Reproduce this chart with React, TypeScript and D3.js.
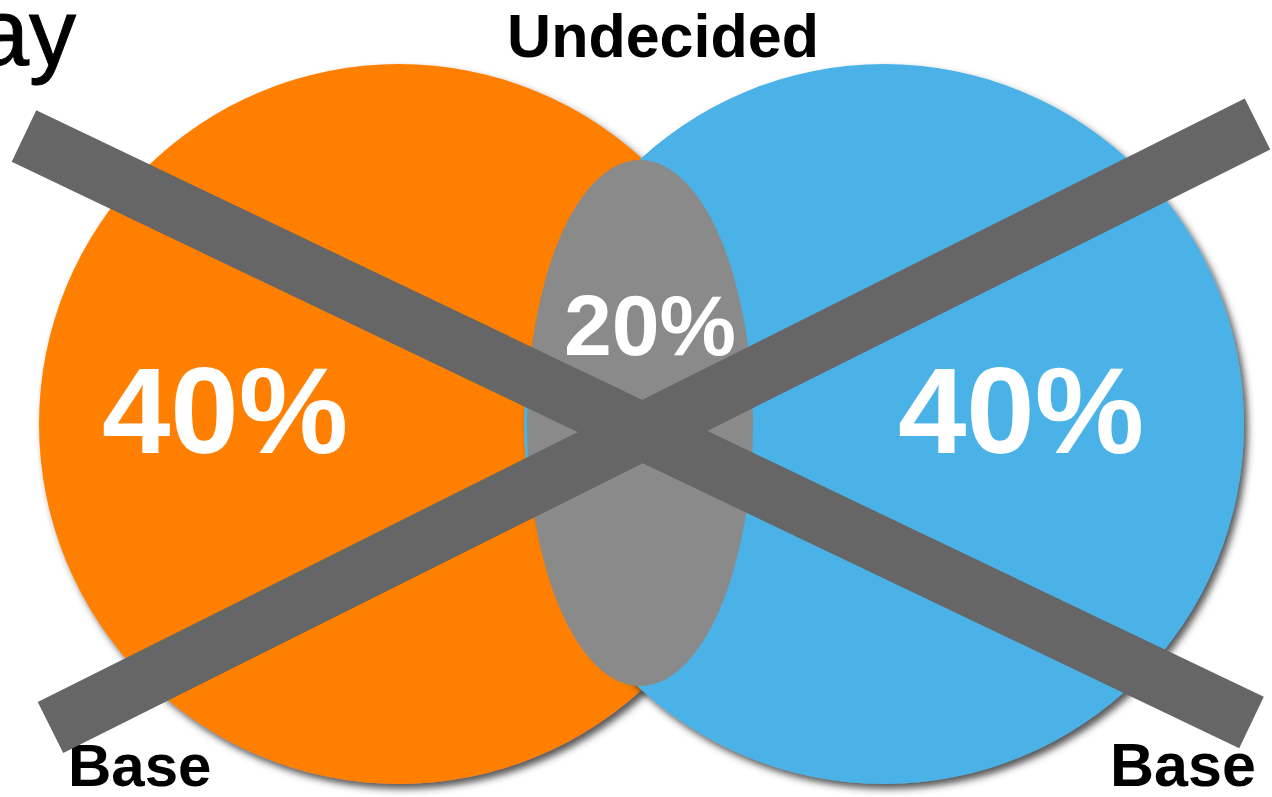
import React from "react";
import * as d3 from "d3";

const setLabels = ["Base", "Undecided", "Base"];
const regionValues = [40, 20, 40];
const setColors = ["#FF8000", "#4CB2E8"];
const overlapColor = "#8A8A8A";
const crossColor = "#666666";
const titleFragment = "ay";

const W = 1272;
const H = 797;

export default function App() {
  // horizontal layout scale for the two sets
  const x = d3.scaleLinear().domain([0, 1]).range([399, 884]);
  const cy = 424;
  const r = 360;
  const fmt = (v: number) => `${v}%`;

  const crossLines: [number, number, number, number][] = [
    [24, 136, 1251.5, 722.5],
    [50.5, 727.5, 1257.5, 124],
  ];

  return (
    <svg
      width={W}
      height={H}
      style={{ position: "absolute", left: 0, top: 0, background: "#fff" }}
      fontFamily="'Liberation Sans', Arial, sans-serif"
    >
      <defs>
        <filter id="sh" x="-10%" y="-10%" width="120%" height="120%">
          <feDropShadow dx="4" dy="5" stdDeviation="3.5" floodColor="#333" floodOpacity="0.8" />
        </filter>
      </defs>
      <text x={76} y={65} fontSize={94} textAnchor="end" fill="#000" stroke="#000" strokeWidth={1}>
        {titleFragment}
      </text>
      <circle cx={x(0)} cy={cy} r={r} fill={setColors[0]} filter="url(#sh)" />
      <circle cx={x(1)} cy={cy} r={r} fill={setColors[1]} filter="url(#sh)" />
      <ellipse cx={640} cy={423} rx={113} ry={263} fill={overlapColor} />
      <text x={225} y={453} fontSize={123} fontWeight="bold" fill="#fff" textAnchor="middle">
        {fmt(regionValues[0])}
      </text>
      <text x={650} y={355} fontSize={86} fontWeight="bold" fill="#fff" textAnchor="middle">
        {fmt(regionValues[1])}
      </text>
      <text x={1021} y={453} fontSize={123} fontWeight="bold" fill="#fff" textAnchor="middle">
        {fmt(regionValues[2])}
      </text>
      <text x={663} y={57} fontSize={61} fontWeight="bold" fill="#000" textAnchor="middle">
        {setLabels[1]}
      </text>
      <text x={68} y={786} fontSize={60} fontWeight="bold" fill="#000">
        {setLabels[0]}
      </text>
      <text x={1110} y={786} fontSize={61} fontWeight="bold" fill="#000">
        {setLabels[2]}
      </text>
      {crossLines.map((l, i) => (
        <line
          key={i}
          x1={l[0]}
          y1={l[1]}
          x2={l[2]}
          y2={l[3]}
          stroke={crossColor}
          strokeWidth={57}
          strokeLinecap="butt"
        />
      ))}
    </svg>
  );
}
